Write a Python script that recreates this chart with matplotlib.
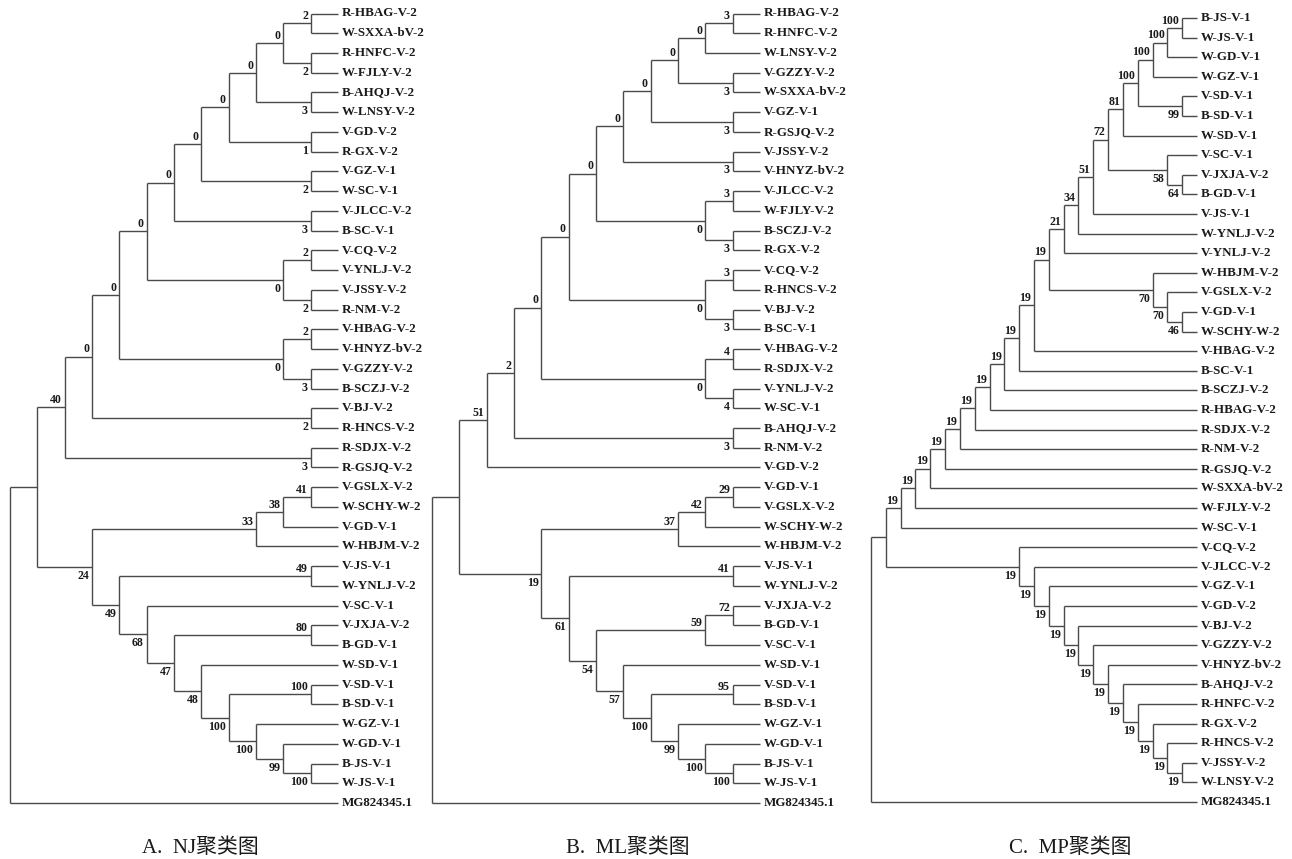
import matplotlib
matplotlib.use('Agg')
import matplotlib.pyplot as plt

# trees as newick strings, support values on internal nodes
nj_upper = ("((((((((((R-HBAG-V-2,W-SXXA-bV-2)2,(R-HNFC-V-2,W-FJLY-V-2)2)0,(B-AHQJ-V-2,W-LNSY-V-2)3)0,"
            "(V-GD-V-2,R-GX-V-2)1)0,(V-GZ-V-1,W-SC-V-1)2)0,(V-JLCC-V-2,B-SC-V-1)3)0,"
            "((V-CQ-V-2,V-YNLJ-V-2)2,(V-JSSY-V-2,R-NM-V-2)2)0)0,"
            "((V-HBAG-V-2,V-HNYZ-bV-2)2,(V-GZZY-V-2,B-SCZJ-V-2)3)0)0,"
            "(V-BJ-V-2,R-HNCS-V-2)2)0,(R-SDJX-V-2,R-GSJQ-V-2)3)40")
nj_lower = ("((((V-GSLX-V-2,W-SCHY-W-2)41,V-GD-V-1)38,W-HBJM-V-2)33,"
            "((V-JS-V-1,W-YNLJ-V-2)49,(V-SC-V-1,((V-JXJA-V-2,B-GD-V-1)80,"
            "(W-SD-V-1,((V-SD-V-1,B-SD-V-1)100,(W-GZ-V-1,(W-GD-V-1,(B-JS-V-1,W-JS-V-1)100)99)100)100)48)47)68)49)24")

ml_upper = ("((((((((((R-HBAG-V-2,R-HNFC-V-2)3,W-LNSY-V-2)0,(V-GZZY-V-2,W-SXXA-bV-2)3)0,"
            "(V-GZ-V-1,R-GSJQ-V-2)3)0,(V-JSSY-V-2,V-HNYZ-bV-2)3)0,"
            "((V-JLCC-V-2,W-FJLY-V-2)3,(B-SCZJ-V-2,R-GX-V-2)3)0)0,"
            "((V-CQ-V-2,R-HNCS-V-2)3,(V-BJ-V-2,B-SC-V-1)3)0)0,"
            "((V-HBAG-V-2,R-SDJX-V-2)4,(V-YNLJ-V-2,W-SC-V-1)4)0)0,"
            "(B-AHQJ-V-2,R-NM-V-2)3)2,V-GD-V-2)51")
ml_lower = ("((((V-GD-V-1,V-GSLX-V-2)29,W-SCHY-W-2)42,W-HBJM-V-2)37,"
            "((V-JS-V-1,W-YNLJ-V-2)41,(((V-JXJA-V-2,B-GD-V-1)72,V-SC-V-1)59,"
            "(W-SD-V-1,((V-SD-V-1,B-SD-V-1)95,(W-GZ-V-1,(W-GD-V-1,(B-JS-V-1,W-JS-V-1)100)100)99)100)57)54)61)19")

mp_core = ("((((((B-JS-V-1,W-JS-V-1)100,W-GD-V-1)100,W-GZ-V-1)100,(V-SD-V-1,B-SD-V-1)99)100,W-SD-V-1)81,"
           "(V-SC-V-1,(V-JXJA-V-2,B-GD-V-1)64)58)72")
mp_upper = ("((((((((((((((" + mp_core + ",V-JS-V-1)51,W-YNLJ-V-2)34,V-YNLJ-V-2)21,"
            "(W-HBJM-V-2,(V-GSLX-V-2,(V-GD-V-1,W-SCHY-W-2)46)70)70)19,"
            "V-HBAG-V-2)19,B-SC-V-1)19,B-SCZJ-V-2)19,R-HBAG-V-2)19,R-SDJX-V-2)19,"
            "R-NM-V-2)19,R-GSJQ-V-2)19,W-SXXA-bV-2)19,W-FJLY-V-2)19,W-SC-V-1)19")
mp_lower = ("(V-CQ-V-2,(V-JLCC-V-2,(V-GZ-V-1,(V-GD-V-2,(V-BJ-V-2,(V-GZZY-V-2,(V-HNYZ-bV-2,"
            "(B-AHQJ-V-2,(R-HNFC-V-2,(R-GX-V-2,(R-HNCS-V-2,(V-JSSY-V-2,W-LNSY-V-2)19)19)19)19)19)19)19)19)19)19)19)19")

outgroup = "MG824345.1"
captions = ["A.  NJ聚类图", "B.  ML聚类图", "C.  MP聚类图"]


def parse_newick(s):
    pos = 0

    def node():
        nonlocal pos
        if s[pos] == '(':
            pos += 1
            kids = [node()]
            while s[pos] == ',':
                pos += 1
                kids.append(node())
            assert s[pos] == ')', s[pos:pos + 20]
            pos += 1
            j = pos
            while pos < len(s) and s[pos] not in ',)':
                pos += 1
            return {'kids': kids, 'support': s[j:pos] or None}
        j = pos
        while s[pos] not in ',)':
            pos += 1
        return {'name': s[j:pos]}

    t = node()
    assert pos == len(s)
    return t


def layout(t, leaves):
    if 'name' in t:
        t['h'] = 0
        t['y'] = len(leaves)
        leaves.append(t['name'])
        return
    for k in t['kids']:
        layout(k, leaves)
    t['h'] = 1 + max(k['h'] for k in t['kids'])
    t['y'] = (t['kids'][0]['y'] + t['kids'][-1]['y']) / 2


LINE = '#4a4a4a'
TXT = '#1a1a1a'
serif = ['Liberation Serif', 'DejaVu Serif']


def draw(ax, t, parent=None, idx=0):
    if parent is not None:
        ax.hlines(t['y'], t['h'], parent['h'], color=LINE, lw=1.0, clip_on=False)
    if 'name' in t:
        ax.annotate(t['name'], (0, t['y']), xytext=(3, 0), textcoords='offset points',
                    ha='left', va='center', fontsize=9.4, fontweight='bold',
                    family=serif, color=TXT, annotation_clip=False)
        return
    kids = t['kids']
    ax.vlines(t['h'], kids[0]['y'], kids[-1]['y'], color=LINE, lw=1.0, clip_on=False)
    if parent is not None and t['support'] is not None:
        dy = 3.0 if idx == 0 else -8.6
        ax.annotate(t['support'], (t['h'], t['y']), xytext=(-2, dy), textcoords='offset points',
                    ha='right', va='baseline', fontsize=8.6, fontweight='bold',
                    family=serif, color=TXT, annotation_clip=False)
    for i, k in enumerate(kids):
        draw(ax, k, t, i)


W, H = 1292, 859
fig = plt.figure(figsize=(W / 100, H / 100), dpi=100)

# pixel boxes: root x, leaf x, top leaf y, bottom leaf y
boxes = [(10, 338, 13.5, 803), (432, 760, 13.5, 803), (871, 1197, 18, 802)]
cap_x = [200, 628, 1070]

for (up, lo), box, cap, cx in zip([(nj_upper, nj_lower), (ml_upper, ml_lower), (mp_upper, mp_lower)],
                                  boxes, captions, cap_x):
    tree = parse_newick("((" + up + "," + lo + ")," + outgroup + ")")
    leaves = []
    layout(tree, leaves)
    x0, x1, yt, yb = box
    ax = fig.add_axes([x0 / W, 1 - yb / H, (x1 - x0) / W, (yb - yt) / H])
    ax.set_xlim(tree['h'], 0)
    ax.set_ylim(len(leaves) - 1, 0)
    ax.set_axis_off()
    draw(ax, tree)
    fig.text(cx / W, 1 - 848 / H, cap, ha='center', va='center', fontsize=15,
             family=['Liberation Serif', 'Noto Sans CJK SC'], color=TXT)

fig.savefig('out.png', dpi=100, facecolor='white')
